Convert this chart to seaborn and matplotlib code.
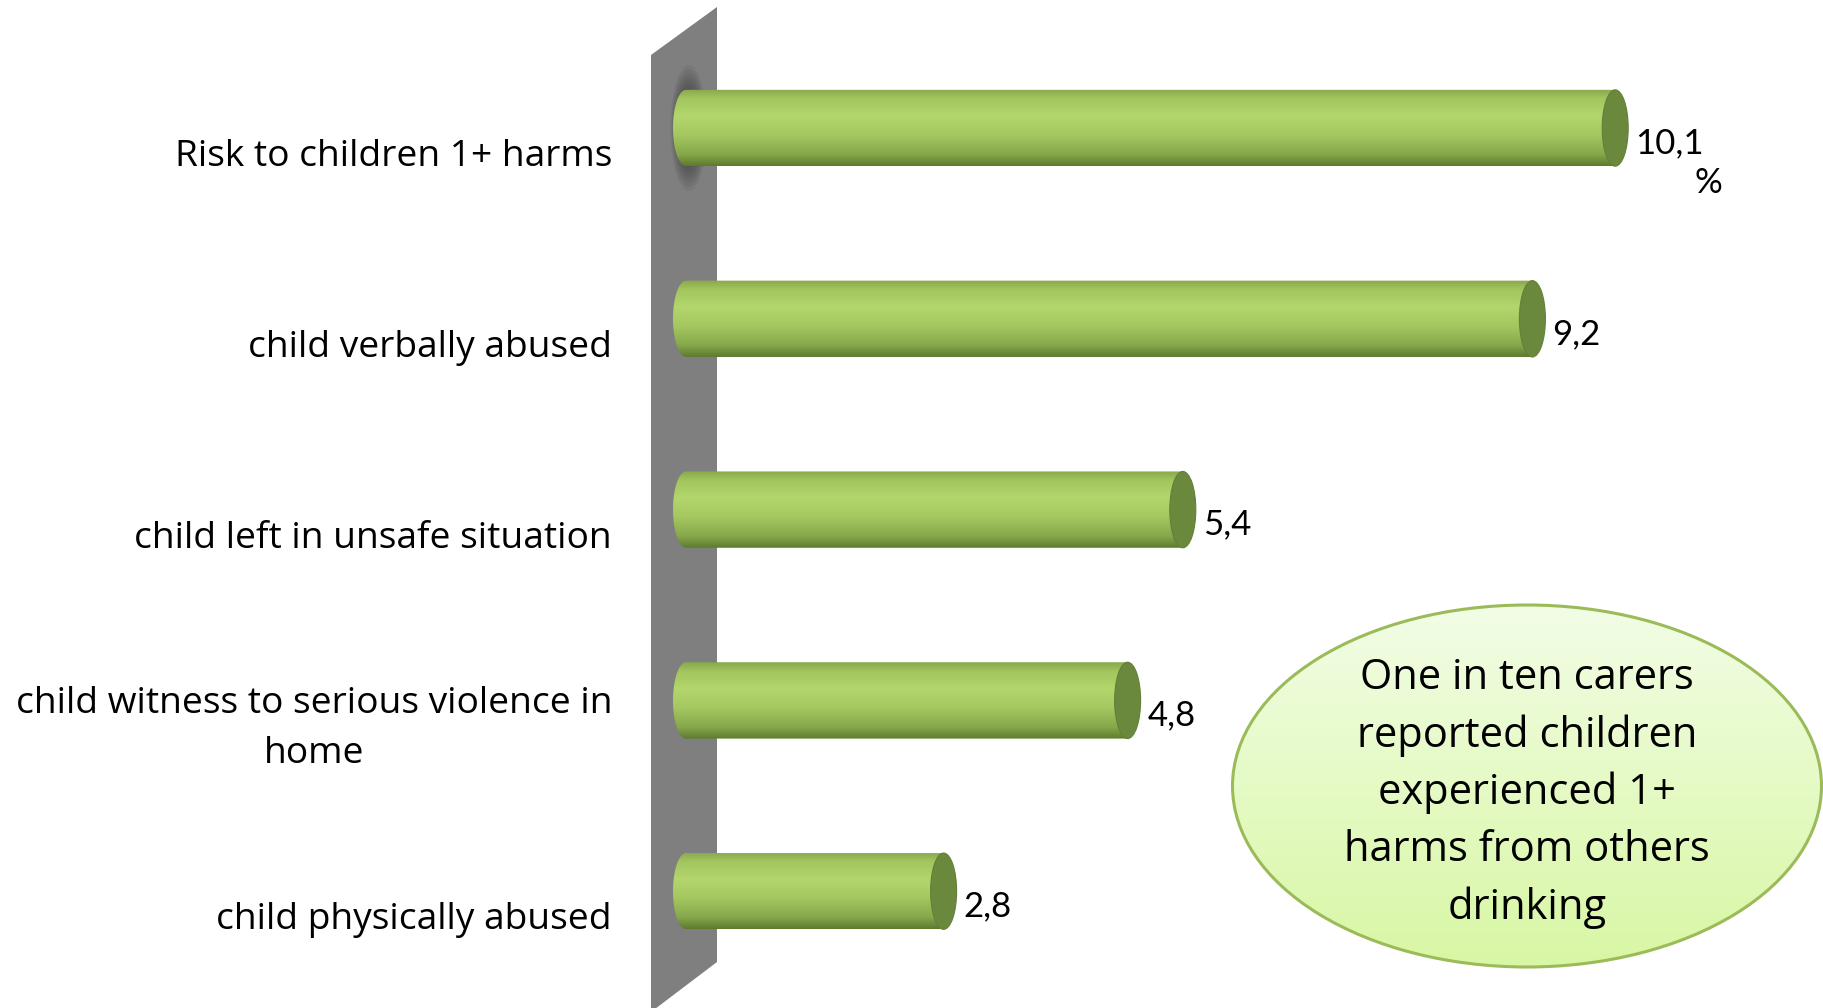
import numpy as np
import pandas as pd
import matplotlib
matplotlib.use("Agg")
import matplotlib.pyplot as plt
import seaborn as sns
from matplotlib.patches import Ellipse, Polygon, PathPatch
from matplotlib.path import Path
from matplotlib.colors import LinearSegmentedColormap

# ---- data ----
categories = [
    "Risk to children 1+ harms",
    "child verbally abused",
    "child left in unsafe situation",
    "child witness to serious violence in\nhome",
    "child physically abused",
]
values = [10.1, 9.2, 5.4, 4.8, 2.8]
value_labels = ["10,1", "9,2", "5,4", "4,8", "2,8"]
callout_text = "One in ten carers\nreported children\nexperienced 1+\nharms from others\ndrinking"

sns.set_theme(style="white")
plt.rcParams["font.family"] = ["Open Sans", "DejaVu Sans"]

W, H = 1823, 1008
fig = plt.figure(figsize=(W / 100, H / 100), dpi=100)
fig.patch.set_facecolor("white")

# decoration layer in pixel coords (wall + callout), behind the bars
deco = fig.add_axes([0, 0, 1, 1], zorder=-1)
deco.axis("off")

# grey 3D wall
wall = Polygon([(651, 1012), (651, 55), (717, 7), (717, 962)], closed=True,
               facecolor="#7f7f7f", edgecolor="none")
deco.add_patch(wall)

# main chart axes (x = 0 sits at pixel 686, 92 px per unit)
x_lo, x_hi = -0.5, 12
ax = fig.add_axes([(686 + x_lo * 92) / W, 1 - 986.6 / H,
                   (x_hi - x_lo) * 92 / W, 954 / H])
ax.patch.set_alpha(0)

df = pd.DataFrame({"category": categories, "value": values})
sns.barplot(data=df, x="value", y="category", orient="h", width=0.4,
            color="#a6c960", ax=ax)

bar_cmap = LinearSegmentedColormap.from_list("cyl", [
    (0.0, "#88a84b"), (0.12, "#a2c55e"), (0.35, "#b3d76c"),
    (0.6, "#a4c760"), (0.85, "#86a74a"), (1.0, "#5d7a2f")])
grad = np.linspace(0, 1, 256).reshape(-1, 1)
cw = 13 / 92  # half width of the elliptic ends, in data units

for i, p in enumerate(list(ax.patches)):
    x0, w = p.get_x(), p.get_width()
    y0, h = p.get_y(), p.get_height()
    yc = y0 + h / 2
    p.set_visible(False)

    if i == 0:
        # soft shadow where the first cylinder meets the wall
        for s in np.linspace(1.0, 0.45, 10):
            ax.add_patch(Ellipse((x0 + 0.03, yc), 0.4 * s, h * 1.65 * s,
                                 facecolor="#262626", edgecolor="none",
                                 alpha=0.08, zorder=1.5))

    t = np.linspace(-np.pi / 2, np.pi / 2, 60)
    verts = [(x0 - cw * np.cos(a), yc + h / 2 * np.sin(a)) for a in t]
    verts += [(x0 + w, y0 + h), (x0 + w, y0), (x0, y0)]
    clip = PathPatch(Path(verts, closed=True), transform=ax.transData,
                     facecolor="none", edgecolor="none")
    ax.add_patch(clip)
    im = ax.imshow(grad, extent=(x0 - cw, x0 + w, y0 + h, y0), origin="upper",
                   aspect="auto", cmap=bar_cmap, zorder=2, interpolation="bilinear")
    im.set_clip_path(clip)
    ax.add_patch(Ellipse((x0 + w, yc), 2 * cw, h, facecolor="#6b893c",
                         edgecolor="#63803a", lw=0.8, zorder=3))

# value labels
for i, (v, lbl) in enumerate(zip(values, value_labels)):
    txt = ax.annotate(lbl, xy=(v, i), xytext=(20, -15), textcoords="offset pixels",
                      ha="left", va="center", fontsize=25, color="black",
                      family=["Lato", "DejaVu Sans"])
    if i == 0:
        ax.annotate("%", xy=(1, 0), xycoords=txt, xytext=(-9, -8),
                    textcoords="offset pixels", ha="left", va="top",
                    fontsize=25, color="black", family=["Lato", "DejaVu Sans"])

# category labels
for i, cat in enumerate(categories):
    ax.annotate(cat, xy=(0, i), xytext=(-74, -29), textcoords="offset pixels",
                ha="right", va="center", multialignment="center",
                linespacing=1.52, fontsize=26.7, color="black",
                annotation_clip=False)

ax.set_xlim(x_lo, x_hi)
ax.set_ylim(4.5, -0.5)
ax.set_xticks([])
ax.set_yticks([])
ax.set_xlabel("")
ax.set_ylabel("")
for sp in ax.spines.values():
    sp.set_visible(False)

# callout ellipse
ex, ey, ew, eh = 1527, 786, 589, 362
oval = Ellipse((ex, ey), ew, eh, facecolor="none", edgecolor="#9bbb59", lw=2.2, zorder=3)
deco.add_patch(oval)
ocmap = LinearSegmentedColormap.from_list("oval", ["#f2fde6", "#d8f7a4"])
oim = deco.imshow(grad, extent=(ex - ew / 2, ex + ew / 2, ey + eh / 2, ey - eh / 2),
                  origin="upper", aspect="auto", cmap=ocmap, zorder=2)
oim.set_clip_path(oval)
deco.text(ex, ey + 7, callout_text, ha="center", va="center", fontsize=30,
          linespacing=1.47, color="black", zorder=4)
deco.set_xlim(0, W)
deco.set_ylim(H, 0)

fig.savefig("out.png", dpi=100)
